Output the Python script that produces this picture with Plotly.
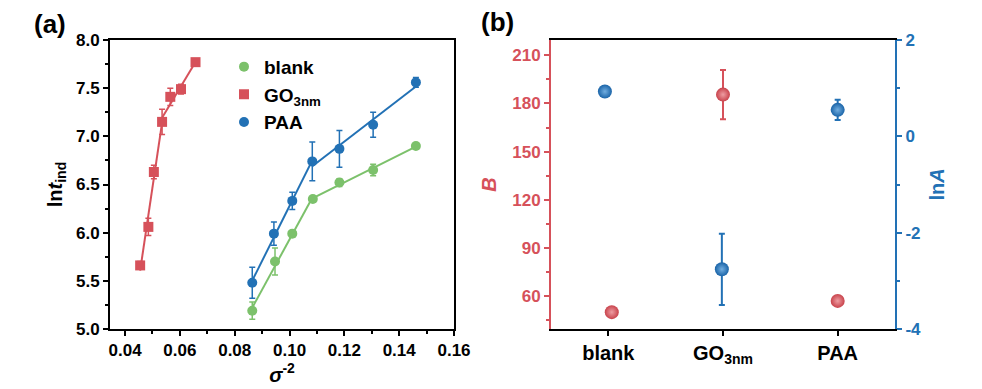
import numpy as np
import plotly.graph_objects as go

# ---------- Panel (a) data ----------
go_x = [0.0455, 0.0485, 0.0505, 0.0535, 0.0565, 0.0604, 0.0657]
go_y = [5.66, 6.06, 6.63, 7.15, 7.41, 7.49, 7.77]
go_e = [0.04, 0.09, 0.07, 0.13, 0.09, 0.05, 0.03]

blank_x = [0.0864, 0.0947, 0.1010, 0.1085, 0.1182, 0.1305, 0.1461]
blank_y = [5.19, 5.70, 5.99, 6.35, 6.52, 6.65, 6.90]
blank_e = [0.09, 0.14, 0.03, 0.03, 0.04, 0.06, 0.03]

paa_x = [0.0864, 0.0943, 0.1010, 0.1083, 0.1182, 0.1305, 0.1461]
paa_y = [5.48, 5.99, 6.33, 6.74, 6.87, 7.12, 7.56]
paa_e = [0.16, 0.12, 0.09, 0.20, 0.19, 0.13, 0.05]

# ---------- Panel (b) data ----------
categories = ["blank", "GO<sub>3nm</sub>", "PAA"]
B_vals = [50, 185.5, 57]
B_err = [0, 15.3, 0]
lnA_vals = [0.93, -2.76, 0.55]
lnA_err = [0, 0.74, 0.21]
lnA_ticks = [-4, -2, 0, 2]
lnA_ticktext = ["-4", "-2", "0", "2"]

GREEN = "#7cc16b"
RED = "#d6515a"
BLUE = "#2271b5"
FONT = "Liberation Sans, Arial, sans-serif"

# The page body has an 8px margin, so layout pixel positions are offset by -8.
W, H = 982, 389
OFF = 8


def px_x(v):
    return (v - OFF) / W


fig = go.Figure()


def seg_fit(xs, ys, i0, i1):
    xa = np.array(xs[i0:i1 + 1])
    ya = np.array(ys[i0:i1 + 1])
    p = np.polyfit(xa, ya, 1)
    xx = np.array([xa.min(), xa.max()])
    return xx, np.polyval(p, xx)


for xs, ys, col in [(go_x, go_y, RED), (blank_x, blank_y, GREEN), (paa_x, paa_y, BLUE)]:
    for (i0, i1) in [(0, 3), (3, 6)]:
        fx, fy = seg_fit(xs, ys, i0, i1)
        fig.add_trace(go.Scatter(x=fx, y=fy, mode="lines", line=dict(color=col, width=2),
                                 showlegend=False, hoverinfo="skip", xaxis="x", yaxis="y"))

for name, xs, ys, es, col, sym in [
    ("blank", blank_x, blank_y, blank_e, GREEN, "circle"),
    ("GO<sub>3nm</sub>", go_x, go_y, go_e, RED, "square"),
    ("PAA", paa_x, paa_y, paa_e, BLUE, "circle"),
]:
    fig.add_trace(go.Scatter(
        x=xs, y=ys, mode="markers", name=name,
        marker=dict(color=col, symbol=sym, size=10),
        error_y=dict(type="data", array=es, color=col, thickness=1.5, width=3),
        xaxis="x", yaxis="y"))

# Panel (b)
fig.add_trace(go.Scatter(
    x=[0.03, 1.0, 2.0], y=B_vals, mode="markers", showlegend=False,
    marker=dict(color="#c8424b", size=14, gradient=dict(type="radial", color="#ee9da2")),
    error_y=dict(type="data", array=B_err, color=RED, thickness=2, width=3),
    xaxis="x2", yaxis="y2"))
fig.add_trace(go.Scatter(
    x=[-0.03, 0.99, 2.0], y=lnA_vals, mode="markers", showlegend=False,
    marker=dict(color="#1a64a8", size=14, gradient=dict(type="radial", color="#72aee0")),
    error_y=dict(type="data", array=lnA_err, color=BLUE, thickness=2, width=3),
    xaxis="x2", yaxis="y3"))

tickfont = dict(family=FONT, size=17, color="black", weight="bold")

fig.update_layout(
    width=W, height=H,
    margin=dict(l=0, r=0, t=32, b=68, autoexpand=False),
    paper_bgcolor="white", plot_bgcolor="white",
    font=dict(family=FONT),
    xaxis=dict(domain=[px_x(110), px_x(454)], range=[0.0345, 0.16],
               tickvals=[0.04, 0.06, 0.08, 0.10, 0.12, 0.14, 0.16],
               ticktext=["0.04", "0.06", "0.08", "0.10", "0.12", "0.14", "0.16"], automargin=False,
               showline=True, linecolor="black", linewidth=2, mirror=True, showgrid=False, zeroline=False,
               ticks="outside", ticklen=5, tickwidth=2, tickcolor="black", tickfont=tickfont,
               minor=dict(dtick=0.01, tick0=0.04, ticks="outside", ticklen=3, tickwidth=1.5, tickcolor="black"),
               title=dict(text="<i>σ</i><sup>-2</sup>", font=dict(family=FONT, size=20, color="black", weight="bold"),
                          standoff=2)),
    yaxis=dict(domain=[0, 1], range=[5.0, 8.0], tickvals=[5.0, 5.5, 6.0, 6.5, 7.0, 7.5, 8.0],
               ticktext=["5.0", "5.5", "6.0", "6.5", "7.0", "7.5", "8.0"], automargin=False,
               showline=True, linecolor="black", linewidth=2, mirror=True, showgrid=False, zeroline=False,
               ticks="outside", ticklen=5, tickwidth=2, tickcolor="black", tickfont=tickfont,
               minor=dict(dtick=0.25, tick0=5.0, ticks="outside", ticklen=3, tickwidth=1.5, tickcolor="black"),
               title=dict(text="ln<i>t</i><sub>ind</sub>", font=dict(family=FONT, size=20, color="black", weight="bold"),
                          standoff=8), anchor="x"),
    xaxis2=dict(domain=[px_x(551), px_x(895)], range=[-0.5, 2.5], tickvals=[0, 1, 2], ticktext=categories,
                automargin=False,
                showline=True, linecolor="black", linewidth=2, mirror=True, showgrid=False, zeroline=False,
                ticks="outside", ticklen=5, tickwidth=2, tickcolor="black",
                tickfont=dict(family=FONT, size=20, color="black", weight="bold"), anchor="y2"),
    yaxis2=dict(domain=[0, 1], range=[39.5, 219.5], tickvals=[60, 90, 120, 150, 180, 210], automargin=False,
                showline=True, linecolor=RED, linewidth=2, mirror=False, showgrid=False, zeroline=False,
                ticks="outside", ticklen=5, tickwidth=2, tickcolor=RED,
                tickfont=dict(family=FONT, size=17, color=RED, weight="bold"),
                minor=dict(dtick=15, tick0=45, ticks="outside", ticklen=3, tickwidth=1.5, tickcolor=RED),
                title=dict(text="<i>B</i>", font=dict(family=FONT, size=20, color=RED, weight="bold"), standoff=10),
                anchor="x2"),
    yaxis3=dict(domain=[0, 1], range=[-4, 2], tickvals=lnA_ticks, ticktext=lnA_ticktext,
                overlaying="y2", side="right", automargin=False,
                showline=True, linecolor=BLUE, linewidth=2, showgrid=False, zeroline=False,
                ticks="outside", ticklen=5, tickwidth=2, tickcolor=BLUE,
                tickfont=dict(family=FONT, size=17, color=BLUE, weight="bold"),
                minor=dict(dtick=1, tick0=-4, ticks="outside", ticklen=3, tickwidth=1.5, tickcolor=BLUE),
                title=dict(text="ln<i>A</i>", font=dict(family=FONT, size=20, color=BLUE, weight="bold"), standoff=10),
                anchor="x2"),
    legend=dict(x=px_x(224), y=0.973, xanchor="left", yanchor="top", bgcolor="rgba(0,0,0,0)",
                font=dict(family=FONT, size=19, color="black", weight="bold"),
                tracegroupgap=0, itemwidth=30),
    annotations=[
        dict(text="(a)", x=px_x(50), y=1 + (40 - 24) / 289, xref="paper", yref="paper", showarrow=False,
             font=dict(family=FONT, size=26, color="black", weight="bold"), xanchor="center", yanchor="middle"),
        dict(text="(b)", x=px_x(497), y=1 + (40 - 22) / 289, xref="paper", yref="paper", showarrow=False,
             font=dict(family=FONT, size=26, color="black", weight="bold"), xanchor="center", yanchor="middle"),
    ],
)

fig.write_html("out.html")
